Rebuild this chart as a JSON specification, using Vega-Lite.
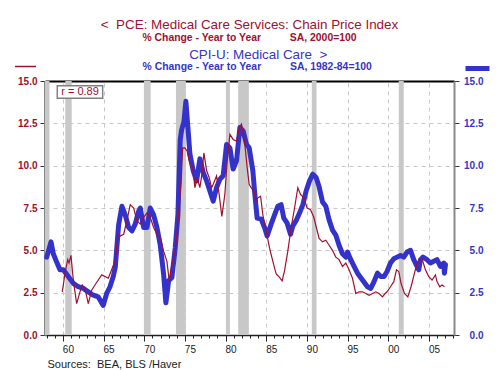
{
 "$schema": "https://vega.github.io/schema/vega-lite/v6.json",
 "width": 409,
 "height": 254,
 "autosize": {"type": "none"},
 "padding": {"left": 45, "top": 81, "right": 46, "bottom": 35},
 "background": "white",
 "config": {"view": {"stroke": null}, "font": "Liberation Sans"},
 "title": {
  "text": "<\u00a0\u00a0PCE: Medical Care Services: Chain Price Index",
  "subtitle": "\u00a0\u00a0\u00a0\u00a0% Change - Year to Year\u00a0\u00a0\u00a0\u00a0\u00a0\u00a0\u00a0\u00a0\u00a0\u00a0SA, 2000=100",
  "color": "#a01030",
  "fontSize": 13.4,
  "fontWeight": "normal",
  "font": "Liberation Sans",
  "subtitleColor": "#a01030",
  "subtitleFontSize": 10.4,
  "subtitleFontWeight": "bold",
  "subtitleFont": "Liberation Sans",
  "subtitlePadding": 1,
  "anchor": "middle",
  "frame": "group",
  "offset": 4
 },
 "datasets": {
  "recessions": [
   {"start": 1957.8, "end": 1958.35}, {"start": 1960.29, "end": 1961.08}, {"start": 1969.96, "end": 1970.79},
   {"start": 1973.9, "end": 1975.12}, {"start": 1980.04, "end": 1980.53}, {"start": 1981.55, "end": 1982.86},
   {"start": 1990.6, "end": 1991.18}, {"start": 2001.29, "end": 2001.9}
  ],
  "cpi": [
   {"date":1958.01,"value":4.6},{"date":1958.54,"value":5.5},{"date":1958.82,"value":4.8},{"date":1959.24,"value":4.3},{"date":1959.64,"value":3.85},{"date":1960.05,"value":3.85},{"date":1960.66,"value":3.45},{"date":1961.28,"value":3.05},{"date":1961.89,"value":2.85},{"date":1962.51,"value":2.75},{"date":1963.12,"value":2.55},{"date":1963.73,"value":2.35},{"date":1964.35,"value":2.25},{"date":1964.96,"value":1.75},{"date":1965.38,"value":2.45},{"date":1965.79,"value":2.85},{"date":1966.19,"value":3.45},{"date":1966.44,"value":4.0},{"date":1966.85,"value":6.5},{"date":1967.26,"value":7.6},{"date":1967.66,"value":7.1},{"date":1968.08,"value":6.35},{"date":1968.49,"value":6.15},{"date":1968.89,"value":6.55},{"date":1969.31,"value":7.3},{"date":1969.51,"value":7.5},{"date":1969.93,"value":6.35},{"date":1970.33,"value":6.35},{"date":1970.74,"value":7.5},{"date":1971.15,"value":7.1},{"date":1971.56,"value":6.35},{"date":1971.96,"value":5.35},{"date":1972.38,"value":3.6},{"date":1972.66,"value":1.9},{"date":1973.0,"value":3.2},{"date":1973.4,"value":3.4},{"date":1973.81,"value":5.15},{"date":1974.14,"value":7.1},{"date":1974.42,"value":11.5},{"date":1974.59,"value":12.1},{"date":1974.88,"value":12.6},{"date":1975.12,"value":13.8},{"date":1975.4,"value":12.05},{"date":1975.61,"value":10.7},{"date":1976.02,"value":9.7},{"date":1976.44,"value":9.1},{"date":1976.84,"value":10.4},{"date":1977.25,"value":9.6},{"date":1977.67,"value":9.1},{"date":1978.07,"value":8.5},{"date":1978.48,"value":7.9},{"date":1978.89,"value":8.7},{"date":1979.3,"value":9.2},{"date":1979.7,"value":9.4},{"date":1980.12,"value":11.25},{"date":1980.53,"value":11.05},{"date":1980.93,"value":9.8},{"date":1981.35,"value":10.3},{"date":1981.76,"value":12.25},{"date":1982.16,"value":12.05},{"date":1982.58,"value":11.25},{"date":1982.9,"value":11.05},{"date":1983.35,"value":9.7},{"date":1983.56,"value":8.5},{"date":1983.88,"value":6.9},{"date":1984.37,"value":6.85},{"date":1984.79,"value":6.35},{"date":1985.11,"value":5.85},{"date":1985.6,"value":6.55},{"date":1986.02,"value":7.1},{"date":1986.42,"value":7.6},{"date":1986.83,"value":7.7},{"date":1987.16,"value":6.9},{"date":1987.57,"value":6.6},{"date":1987.98,"value":5.95},{"date":1988.27,"value":6.45},{"date":1988.67,"value":6.75},{"date":1989.09,"value":7.2},{"date":1989.5,"value":7.7},{"date":1989.9,"value":8.5},{"date":1990.32,"value":9.1},{"date":1990.72,"value":9.5},{"date":1991.13,"value":9.3},{"date":1991.5,"value":8.75},{"date":1991.92,"value":7.85},{"date":1992.32,"value":7.6},{"date":1992.73,"value":6.8},{"date":1993.14,"value":6.2},{"date":1993.55,"value":5.9},{"date":1993.95,"value":5.3},{"date":1994.37,"value":4.8},{"date":1994.78,"value":4.6},{"date":1994.99,"value":4.9},{"date":1995.39,"value":4.45},{"date":1995.8,"value":4.05},{"date":1996.22,"value":3.65},{"date":1996.83,"value":3.25},{"date":1997.44,"value":2.85},{"date":1997.85,"value":2.75},{"date":1998.25,"value":3.15},{"date":1998.67,"value":3.65},{"date":1999.08,"value":3.45},{"date":1999.48,"value":3.45},{"date":1999.85,"value":3.75},{"date":2000.27,"value":4.25},{"date":2000.68,"value":4.5},{"date":2001.08,"value":4.6},{"date":2001.5,"value":4.7},{"date":2001.9,"value":4.6},{"date":2002.31,"value":4.9},{"date":2002.73,"value":5.0},{"date":2003.13,"value":4.45},{"date":2003.54,"value":4.05},{"date":2003.75,"value":3.85},{"date":2003.96,"value":4.45},{"date":2004.27,"value":4.6},{"date":2004.77,"value":4.45},{"date":2005.18,"value":4.25},{"date":2005.59,"value":4.35},{"date":2005.99,"value":4.45},{"date":2006.41,"value":4.05},{"date":2006.82,"value":4.25},{"date":2006.9,"value":3.65},{"date":2007.03,"value":4.15}
  ],
  "pce": [
   {"date":1959.93,"value":2.55},{"date":1960.26,"value":3.65},{"date":1960.59,"value":4.45},{"date":1960.75,"value":4.25},{"date":1960.99,"value":4.7},{"date":1961.28,"value":3.25},{"date":1961.69,"value":1.85},{"date":1962.1,"value":2.55},{"date":1962.38,"value":2.95},{"date":1962.71,"value":2.75},{"date":1963.12,"value":1.85},{"date":1963.54,"value":2.65},{"date":1963.94,"value":2.95},{"date":1964.35,"value":3.25},{"date":1964.77,"value":3.55},{"date":1965.17,"value":3.45},{"date":1965.58,"value":3.35},{"date":1965.99,"value":3.85},{"date":1966.31,"value":4.25},{"date":1966.44,"value":4.35},{"date":1966.77,"value":5.95},{"date":1967.05,"value":5.85},{"date":1967.47,"value":5.95},{"date":1967.87,"value":6.75},{"date":1968.28,"value":7.7},{"date":1968.7,"value":7.5},{"date":1969.1,"value":6.75},{"date":1969.51,"value":6.55},{"date":1969.93,"value":6.95},{"date":1970.33,"value":7.2},{"date":1970.74,"value":6.95},{"date":1971.15,"value":6.35},{"date":1971.56,"value":5.95},{"date":1971.96,"value":5.75},{"date":1972.38,"value":4.95},{"date":1972.79,"value":4.35},{"date":1973.07,"value":3.2},{"date":1973.4,"value":4.15},{"date":1973.81,"value":4.95},{"date":1974.22,"value":7.1},{"date":1974.54,"value":9.1},{"date":1974.72,"value":11.05},{"date":1975.0,"value":11.05},{"date":1975.28,"value":10.85},{"date":1975.61,"value":10.1},{"date":1975.95,"value":10.0},{"date":1976.23,"value":8.7},{"date":1976.51,"value":9.3},{"date":1976.84,"value":8.7},{"date":1977.09,"value":9.5},{"date":1977.33,"value":10.75},{"date":1977.67,"value":9.7},{"date":1977.98,"value":9.3},{"date":1978.28,"value":8.7},{"date":1978.48,"value":8.9},{"date":1978.89,"value":9.4},{"date":1979.21,"value":8.3},{"date":1979.54,"value":7.0},{"date":1979.91,"value":8.3},{"date":1980.2,"value":10.3},{"date":1980.53,"value":11.85},{"date":1980.93,"value":11.55},{"date":1981.35,"value":11.45},{"date":1981.67,"value":12.25},{"date":1981.96,"value":12.45},{"date":1982.37,"value":11.25},{"date":1982.65,"value":9.9},{"date":1982.9,"value":8.9},{"date":1983.14,"value":8.7},{"date":1983.48,"value":8.5},{"date":1983.76,"value":7.9},{"date":1983.97,"value":8.1},{"date":1984.3,"value":8.2},{"date":1984.58,"value":7.1},{"date":1984.99,"value":6.15},{"date":1985.4,"value":5.15},{"date":1985.81,"value":4.35},{"date":1986.22,"value":3.6},{"date":1986.63,"value":3.4},{"date":1986.95,"value":3.2},{"date":1987.25,"value":3.8},{"date":1987.65,"value":4.95},{"date":1988.06,"value":6.35},{"date":1988.48,"value":7.5},{"date":1988.88,"value":8.7},{"date":1989.21,"value":8.3},{"date":1989.62,"value":8.1},{"date":1990.02,"value":7.5},{"date":1990.44,"value":7.4},{"date":1990.85,"value":6.95},{"date":1991.13,"value":6.4},{"date":1991.5,"value":5.7},{"date":1991.92,"value":5.5},{"date":1992.32,"value":5.6},{"date":1992.73,"value":5.3},{"date":1993.14,"value":5.0},{"date":1993.55,"value":4.6},{"date":1993.95,"value":4.45},{"date":1994.37,"value":4.05},{"date":1994.78,"value":4.25},{"date":1995.18,"value":3.85},{"date":1995.6,"value":3.35},{"date":1996.01,"value":2.45},{"date":1996.41,"value":2.55},{"date":1996.83,"value":2.55},{"date":1997.24,"value":2.45},{"date":1997.64,"value":2.35},{"date":1998.06,"value":2.45},{"date":1998.46,"value":2.55},{"date":1998.87,"value":2.45},{"date":1999.29,"value":2.25},{"date":1999.61,"value":2.45},{"date":1999.85,"value":2.55},{"date":2000.27,"value":2.85},{"date":2000.68,"value":3.15},{"date":2001.01,"value":3.85},{"date":2001.29,"value":3.75},{"date":2001.57,"value":3.05},{"date":2001.99,"value":2.45},{"date":2002.4,"value":2.25},{"date":2002.8,"value":2.85},{"date":2003.22,"value":3.65},{"date":2003.54,"value":4.25},{"date":2003.87,"value":4.45},{"date":2004.15,"value":4.5},{"date":2004.57,"value":3.85},{"date":2004.97,"value":3.45},{"date":2005.38,"value":3.25},{"date":2005.8,"value":3.55},{"date":2005.99,"value":3.15},{"date":2006.33,"value":2.85},{"date":2006.61,"value":2.95},{"date":2006.9,"value":2.85}
  ],
  "rbox": [{"x1": 1959.31, "x2": 1964.89, "y1": 13.98, "y2": 14.72}],
  "rtext": [{"date": 1962.1, "value": 14.35, "label": "r = 0.89"}]
 },
 "layer": [
  {
   "data": {"name": "recessions"},
   "mark": {"type": "rect", "color": "#c8c8c8"},
   "encoding": {
    "x": {"field": "start", "type": "quantitative",
     "scale": {"domain": [1957.8, 2008.08], "nice": false, "zero": false},
     "axis": {"orient": "bottom", "values": [1960,1965,1970,1975,1980,1985,1990,1995,2000,2005],
      "labelExpr": "substring(toString(datum.value),2,4)", "labelOffset": 5, "labelFontSize": 10,
      "labelColor": "#222", "labelPadding": 3, "tickSize": 6, "tickColor": "#222",
      "domainColor": "#222", "domainWidth": 1.5, "grid": true, "gridColor": "#c8c8c8", "gridDash": [4,4],
      "title": "Sources:\u00a0\u00a0BEA, BLS /Haver", "titleX": 2, "titleY": 32, "titleAlign": "left",
      "titleAnchor": "start", "titleBaseline": "alphabetic", "titleFontSize": 11, "titleFontWeight": "normal", "titleColor": "#222"}},
    "x2": {"field": "end"}
   }
  },
  {
   "data": {"name": "cpi"},
   "mark": {"type": "line", "strokeWidth": 5, "strokeJoin": "round", "strokeCap": "round"},
   "encoding": {
    "x": {"field": "date", "type": "quantitative",
     "scale": {"domain": [1957.8, 2008.08], "nice": false, "zero": false},
     "axis": {"orient": "top", "labels": false, "ticks": false, "domain": true, "domainColor": "#000", "domainWidth": 2, "grid": false,
      "title": "CPI-U: Medical Care\u00a0\u00a0>", "titleX": 212.7, "titleY": -23, "titleAlign": "center", "titleBaseline": "alphabetic",
      "titleFontSize": 13.4, "titleFontWeight": "normal", "titleColor": "#3535c8"}},
    "y": {"field": "value", "type": "quantitative",
     "scale": {"domain": [0, 15], "nice": false},
     "axis": {"orient": "right", "values": [0,2.5,5,7.5,10,12.5,15], "format": ".1f", "labelColor": "#3535c8",
      "labelFontSize": 10, "labelFontWeight": "bold", "labelAlign": "right", "labelPadding": 24, "tickSize": 5, "tickColor": "#333",
      "domainColor": "#888", "domainWidth": 2, "grid": false, "title": null}},
    "stroke": {"datum": "CPI-U", "scale": {"range": ["#3333cc"]},
     "legend": {"orient": "none", "legendX": 418, "legendY": -27, "title": null, "symbolType": "stroke", "symbolSize": 576,
      "symbolStrokeWidth": 5, "symbolStrokeColor": "#3333cc", "labelExpr": "''", "labelFontSize": 1, "padding": 0}}
   }
  },
  {
   "data": {"name": "pce"},
   "mark": {"type": "line", "strokeWidth": 1.2},
   "encoding": {
    "x": {"field": "date", "type": "quantitative",
     "scale": {"domain": [1957.8, 2008.08], "nice": false, "zero": false},
     "axis": {"orient": "bottom", "values": [1958,1959,1960,1961,1962,1963,1964,1965,1966,1967,1968,1969,1970,1971,1972,1973,1974,1975,1976,1977,1978,1979,1980,1981,1982,1983,1984,1985,1986,1987,1988,1989,1990,1991,1992,1993,1994,1995,1996,1997,1998,1999,2000,2001,2002,2003,2004,2005,2006,2007,2008],
      "labels": false, "tickSize": 3, "tickColor": "#222", "domain": false, "grid": false, "title": null}},
    "y": {"field": "value", "type": "quantitative",
     "scale": {"domain": [0, 15], "nice": false},
     "axis": {"orient": "left", "values": [0,2.5,5,7.5,10,12.5,15], "format": ".1f", "labelColor": "#a01030",
      "labelFontSize": 10, "labelFontWeight": "bold", "labelPadding": 3, "tickSize": 5, "tickColor": "#333",
      "domainColor": "#888", "domainWidth": 3, "grid": true, "gridColor": "#c8c8c8", "gridDash": [4,4], "title": null}},
    "stroke": {"datum": "PCE", "scale": {"range": ["#a01030"]},
     "legend": {"orient": "none", "legendX": -31, "legendY": -26, "title": null, "symbolType": "stroke", "symbolSize": 441,
      "symbolStrokeWidth": 1.5, "symbolStrokeColor": "#a01030", "labelExpr": "''", "labelFontSize": 1, "padding": 0}}
   }
  },
  {
   "data": {"name": "rbox"},
   "mark": {"type": "rect", "fill": "white", "stroke": "#808080", "strokeWidth": 1.5},
   "encoding": {
    "x": {"field": "x1", "type": "quantitative",
     "scale": {"domain": [1957.8, 2008.08], "nice": false, "zero": false},
     "axis": {"orient": "top", "labels": false, "ticks": false, "domain": false, "grid": false,
      "title": "% Change - Year to Year\u00a0\u00a0\u00a0\u00a0\u00a0\u00a0\u00a0\u00a0\u00a0\u00a0SA, 1982-84=100", "titleX": 211.7, "titleY": -12,
      "titleAlign": "center", "titleBaseline": "alphabetic", "titleFontSize": 10.4, "titleFontWeight": "bold", "titleColor": "#3535c8"}},
    "x2": {"field": "x2"},
    "y": {"field": "y1", "type": "quantitative", "scale": {"domain": [0, 15], "nice": false}, "axis": null},
    "y2": {"field": "y2"}
   }
  },
  {
   "data": {"name": "rtext"},
   "mark": {"type": "text", "fontSize": 11, "color": "#a01030", "align": "center", "baseline": "middle", "font": "Liberation Sans"},
   "encoding": {
    "x": {"field": "date", "type": "quantitative", "scale": {"domain": [1957.8, 2008.08], "nice": false, "zero": false}, "axis": null},
    "y": {"field": "value", "type": "quantitative", "scale": {"domain": [0, 15], "nice": false}, "axis": null},
    "text": {"field": "label"}
   }
  }
 ],
 "resolve": {"axis": {"x": "independent", "y": "independent"}, "scale": {"stroke": "independent"}}
}
